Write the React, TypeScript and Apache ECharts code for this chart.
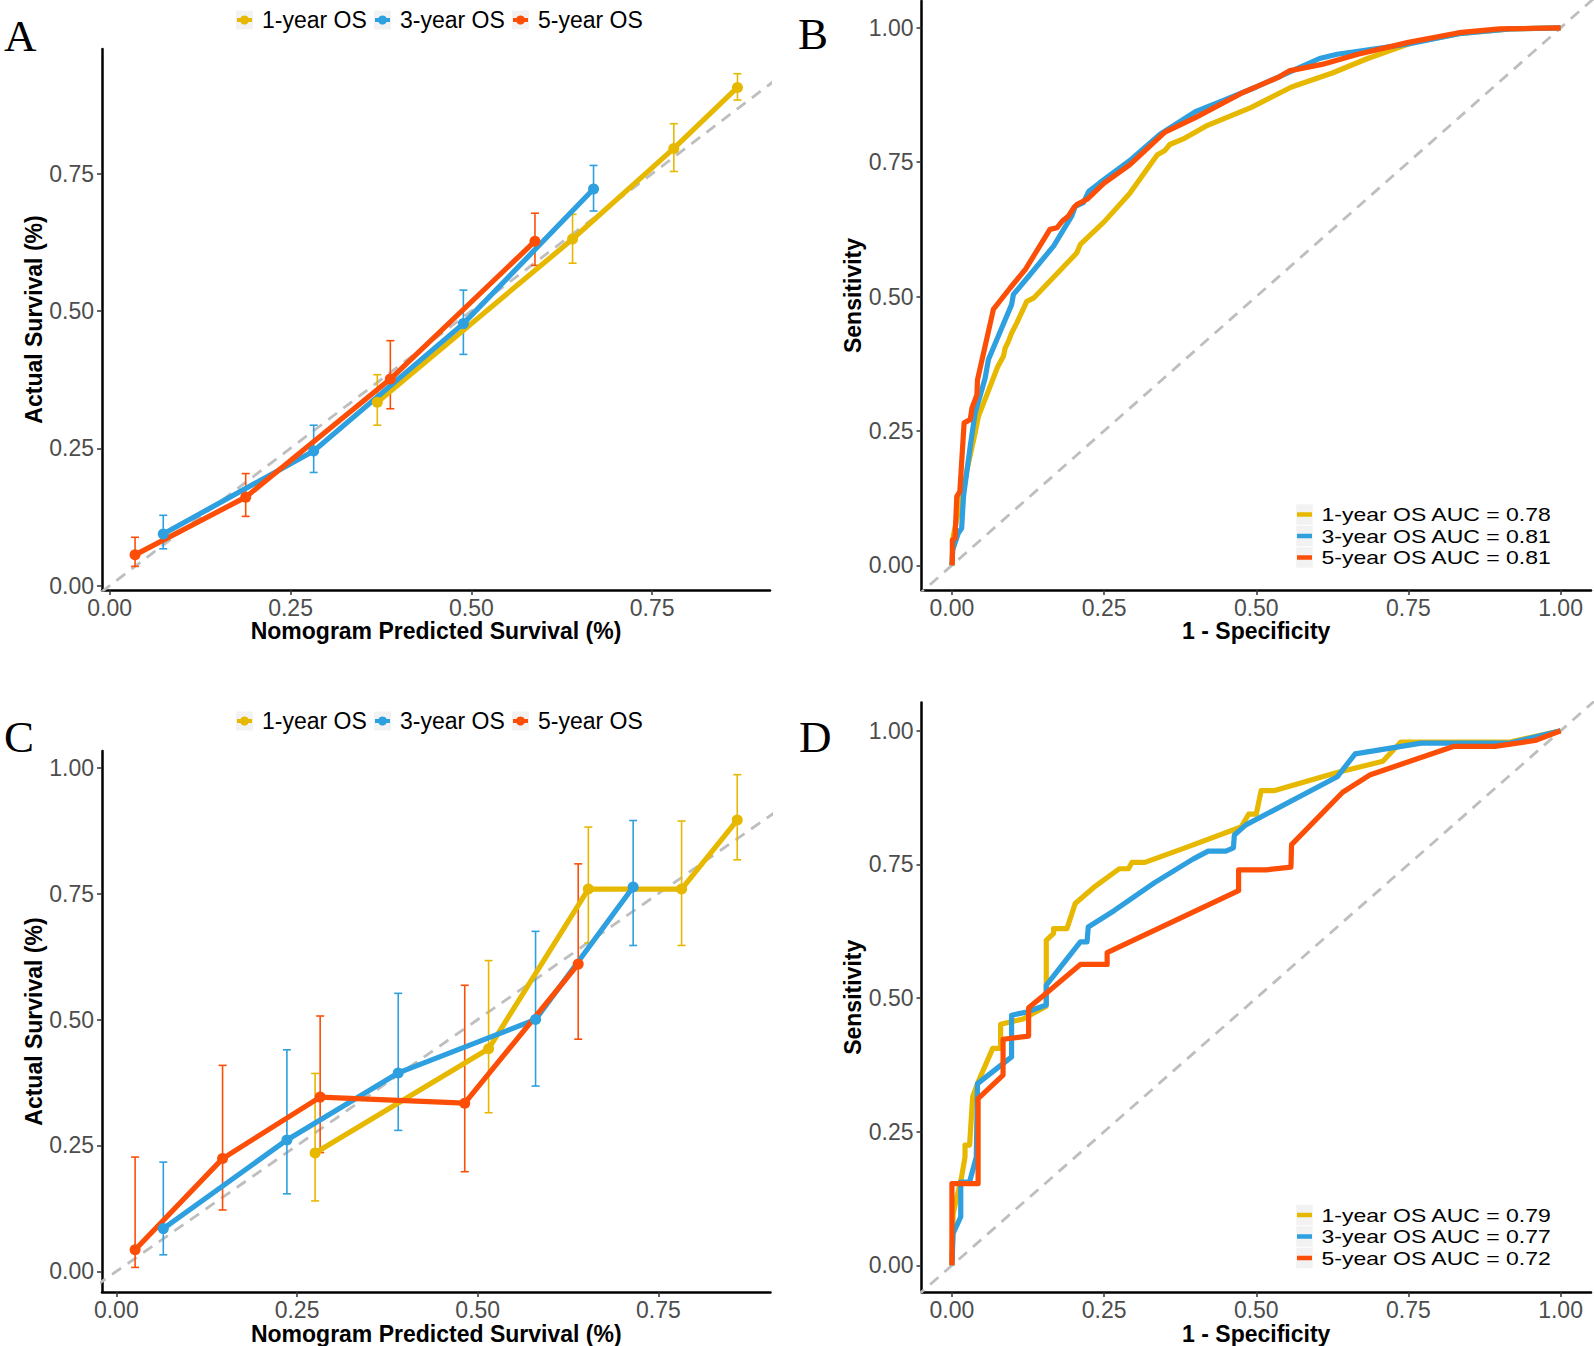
import React, { useEffect, useRef } from "react";
import * as echarts from "echarts";

const FONT = "Liberation Sans, Arial, sans-serif";
const COL1 = "#E7B800";
const COL3 = "#2E9FDF";
const COL5 = "#FC4E07";
const DIAG = "#BEBEBE";

const seriesLabels = ["1-year OS", "3-year OS", "5-year OS"];
const aucB = ["0.78", "0.81", "0.81"];
const aucD = ["0.79", "0.77", "0.72"];
const calTicks = [0, 0.25, 0.5, 0.75];
const calTicksC = [0, 0.25, 0.5, 0.75, 1.0];
const rocTicks = [0, 0.25, 0.5, 0.75, 1.0];

// Panel A calibration
const calA1x = [0.370, 0.640, 0.780, 0.868];
const calA1y = [0.334, 0.631, 0.796, 0.907];
const calA1lo = [0.292, 0.587, 0.754, 0.884];
const calA1hi = [0.384, 0.676, 0.841, 0.932];
const calA3x = [0.074, 0.282, 0.489, 0.669];
const calA3y = [0.094, 0.245, 0.477, 0.722];
const calA3lo = [0.067, 0.206, 0.421, 0.682];
const calA3hi = [0.128, 0.292, 0.538, 0.765];
const calA5x = [0.035, 0.188, 0.388, 0.588];
const calA5y = [0.056, 0.161, 0.376, 0.627];
const calA5lo = [0.035, 0.126, 0.322, 0.583];
const calA5hi = [0.088, 0.204, 0.446, 0.678];

// Panel C calibration
const calC1x = [0.275, 0.515, 0.653, 0.782, 0.859];
const calC1y = [0.235, 0.442, 0.759, 0.759, 0.896];
const calC1lo = [0.140, 0.315, 0.652, 0.647, 0.817];
const calC1hi = [0.393, 0.617, 0.882, 0.894, 0.986];
const calC3x = [0.065, 0.236, 0.390, 0.580, 0.715];
const calC3y = [0.085, 0.261, 0.394, 0.500, 0.763];
const calC3lo = [0.033, 0.154, 0.280, 0.368, 0.647];
const calC3hi = [0.217, 0.440, 0.552, 0.675, 0.895];
const calC5x = [0.026, 0.147, 0.282, 0.482, 0.639];
const calC5y = [0.043, 0.224, 0.346, 0.334, 0.610];
const calC5lo = [0.008, 0.122, 0.236, 0.198, 0.461];
const calC5hi = [0.227, 0.409, 0.507, 0.568, 0.809];

// Panel B ROC
const rocB1 = [[0,0],[0.002,0.053],[0.0125,0.110],[0.019,0.140],[0.025,0.179],[0.038,0.246],[0.0435,0.277],[0.049,0.293],[0.058,0.319],[0.075,0.369],[0.0846,0.389],[0.0874,0.404],[0.093,0.417],[0.098,0.432],[0.1066,0.451],[0.123,0.491],[0.134,0.497],[0.167,0.536],[0.205,0.581],[0.211,0.597],[0.25,0.639],[0.292,0.692],[0.3375,0.764],[0.35,0.772],[0.358,0.783],[0.383,0.795],[0.417,0.817],[0.492,0.852],[0.558,0.890],[0.625,0.916],[0.683,0.943],[0.758,0.973],[0.833,0.989],[0.917,0.998],[1,1]];
const rocB3 = [[0,0],[0.0013,0.0285],[0.0106,0.060],[0.016,0.069],[0.019,0.128],[0.030,0.221],[0.038,0.283],[0.046,0.314],[0.0545,0.348],[0.060,0.383],[0.083,0.445],[0.098,0.485],[0.101,0.504],[0.1285,0.541],[0.167,0.594],[0.197,0.650],[0.2026,0.668],[0.216,0.675],[0.225,0.696],[0.242,0.711],[0.292,0.753],[0.342,0.802],[0.4,0.844],[0.442,0.863],[0.5,0.890],[0.567,0.924],[0.604,0.943],[0.633,0.951],[0.75,0.970],[0.833,0.989],[0.917,0.998],[1,1]];
const rocB5 = [[0,0],[0.0007,0.007],[0.0007,0.047],[0.005,0.050],[0.008,0.128],[0.013,0.137],[0.020,0.265],[0.030,0.271],[0.033,0.293],[0.041,0.317],[0.042,0.345],[0.0655,0.463],[0.068,0.476],[0.0956,0.516],[0.121,0.551],[0.161,0.625],[0.1725,0.628],[0.181,0.640],[0.1916,0.650],[0.200,0.665],[0.205,0.671],[0.222,0.681],[0.250,0.711],[0.292,0.745],[0.350,0.806],[0.400,0.833],[0.475,0.878],[0.538,0.909],[0.554,0.920],[0.608,0.932],[0.667,0.951],[0.750,0.973],[0.833,0.991],[0.900,0.998],[1,1]];

// Panel D ROC
const rocD1 = [[0,0],[0.002,0.097],[0.016,0.166],[0.0215,0.203],[0.0215,0.225],[0.029,0.225],[0.034,0.315],[0.043,0.343],[0.067,0.406],[0.080,0.406],[0.080,0.451],[0.117,0.461],[0.155,0.485],[0.155,0.608],[0.167,0.621],[0.167,0.630],[0.189,0.630],[0.2025,0.677],[0.233,0.707],[0.275,0.742],[0.29,0.742],[0.296,0.754],[0.317,0.754],[0.383,0.781],[0.475,0.820],[0.4875,0.844],[0.5,0.844],[0.508,0.888],[0.529,0.888],[0.633,0.922],[0.708,0.943],[0.7375,0.979],[0.771,0.979],[0.917,0.979],[1,1]];
const rocD3 = [[0,0],[0.002,0.060],[0.0145,0.091],[0.0145,0.156],[0.029,0.156],[0.040,0.203],[0.042,0.340],[0.098,0.390],[0.098,0.468],[0.123,0.474],[0.155,0.487],[0.155,0.524],[0.179,0.559],[0.211,0.605],[0.222,0.605],[0.224,0.633],[0.267,0.664],[0.333,0.716],[0.396,0.760],[0.421,0.775],[0.45,0.775],[0.4625,0.781],[0.464,0.805],[0.483,0.824],[0.633,0.914],[0.6625,0.957],[0.771,0.977],[0.917,0.977],[1,1]];
const rocD5 = [[0,0],[0,0.153],[0.043,0.153],[0.043,0.312],[0.084,0.356],[0.084,0.423],[0.126,0.429],[0.126,0.482],[0.154,0.508],[0.211,0.563],[0.255,0.563],[0.255,0.585],[0.471,0.701],[0.471,0.740],[0.517,0.740],[0.557,0.745],[0.558,0.787],[0.642,0.885],[0.6875,0.918],[0.825,0.971],[0.892,0.971],[0.958,0.982],[1,1]];

const COLORS = [COL1, COL3, COL5];

function xAxisCfg(gi: number, min: number, max: number, ticks: number[], name: string, gap: number) {
  return {
    type: "value", gridIndex: gi, min, max, name, nameLocation: "middle", nameGap: gap,
    nameTextStyle: { fontFamily: FONT, fontSize: 23, fontWeight: "bold", color: "#000" },
    axisLine: { show: true, onZero: false, lineStyle: { color: "#000", width: 2.5 } },
    axisTick: { show: true, length: 5, customValues: ticks, lineStyle: { color: "#333", width: 1.5 } },
    axisLabel: { customValues: ticks, formatter: (v: number) => v.toFixed(2), fontFamily: FONT, fontSize: 23, color: "#4D4D4D", margin: 6 },
    splitLine: { show: false },
  };
}
function yAxisCfg(gi: number, min: number, max: number, ticks: number[], name: string, gap: number) {
  return {
    type: "value", gridIndex: gi, min, max, name, nameLocation: "middle", nameGap: gap,
    nameTextStyle: { fontFamily: FONT, fontSize: 23, fontWeight: "bold", color: "#000" },
    axisLine: { show: true, onZero: false, lineStyle: { color: "#000", width: 2.5 } },
    axisTick: { show: true, length: 5, customValues: ticks, lineStyle: { color: "#333", width: 1.5 } },
    axisLabel: { customValues: ticks, formatter: (v: number) => v.toFixed(2), fontFamily: FONT, fontSize: 23, color: "#4D4D4D", margin: 8 },
    splitLine: { show: false },
  };
}

function diag(gi: number) {
  return {
    type: "line", xAxisIndex: gi, yAxisIndex: gi, data: [[-0.2, -0.2], [1.2, 1.2]], symbol: "none", silent: true,
    clip: true, lineStyle: { color: DIAG, width: 2.8, type: [11, 8] }, z: 1,
  };
}

function errSeries(gi: number, x: number[], lo: number[], hi: number[], color: string) {
  return {
    type: "custom", xAxisIndex: gi, yAxisIndex: gi, silent: true, z: 2,
    data: x.map((v, i) => [v, lo[i], hi[i]]),
    encode: { x: 0, y: [1, 2] },
    renderItem: (_p: any, api: any) => {
      const xv = api.value(0);
      const a = api.coord([xv, api.value(1)]);
      const b = api.coord([xv, api.value(2)]);
      const w = 4;
      const st = { stroke: color, lineWidth: 1.6 };
      return {
        type: "group",
        children: [
          { type: "line", shape: { x1: a[0], y1: a[1], x2: b[0], y2: b[1] }, style: st },
          { type: "line", shape: { x1: a[0] - w, y1: a[1], x2: a[0] + w, y2: a[1] }, style: st },
          { type: "line", shape: { x1: b[0] - w, y1: b[1], x2: b[0] + w, y2: b[1] }, style: st },
        ],
      };
    },
  };
}

function calLine(gi: number, name: string, x: number[], y: number[], color: string) {
  return {
    type: "line", name, xAxisIndex: gi, yAxisIndex: gi, data: x.map((v, i) => [v, y[i]]),
    symbol: "circle", symbolSize: 11, showSymbol: true, z: 3,
    lineStyle: { color, width: 5.2 }, itemStyle: { color },
  };
}

function rocLine(gi: number, name: string, data: number[][], color: string) {
  return {
    type: "line", name, xAxisIndex: gi, yAxisIndex: gi, data, symbol: "none", showSymbol: false, z: 3,
    lineStyle: { color, width: 5.2, join: "round" },
  };
}

function calLegend(cy: number) {
  const els: any[] = [];
  seriesLabels.forEach((lab, i) => {
    const x = 236 + 138 * i;
    els.push({ type: "rect", shape: { x, y: cy - 9.5, width: 17, height: 19 }, style: { fill: "#F2F2F2" } });
    els.push({ type: "line", shape: { x1: x + 1, y1: cy, x2: x + 16, y2: cy }, style: { stroke: COLORS[i], lineWidth: 4 } });
    els.push({ type: "circle", shape: { cx: x + 8.5, cy, r: 4.5 }, style: { fill: COLORS[i] } });
    els.push({ type: "text", x: x + 26, y: cy, style: { text: lab, fontFamily: FONT, fontSize: 23, fill: "#000", verticalAlign: "middle", align: "left" } });
  });
  return els;
}

function rocLegend(rows: number[], aucs: string[]) {
  const els: any[] = [];
  seriesLabels.forEach((lab, i) => {
    const cy = rows[i];
    els.push({ type: "rect", shape: { x: 1296, y: cy - 10.5, width: 17, height: 21 }, style: { fill: "#F2F2F2", stroke: "#FFFFFF", lineWidth: 0.5 } });
    els.push({ type: "line", shape: { x1: 1297, y1: cy, x2: 1312, y2: cy }, style: { stroke: COLORS[i], lineWidth: 4.5 } });
    els.push({
      type: "text", x: 1321.5, y: cy, scaleX: 1, scaleY: 0.8,
      style: { text: `${lab} AUC = ${aucs[i]}`, fontFamily: FONT, fontSize: 23, lineHeight: 20, fill: "#000", verticalAlign: "middle", align: "left" },
    });
  });
  return els;
}

function letter(t: string, x: number, y: number) {
  return { type: "text", x, y, style: { text: t, fontFamily: "Liberation Serif, Times New Roman, serif", fontSize: 45, fill: "#000", verticalAlign: "middle", align: "left" } };
}

export default function App() {
  const ref = useRef<HTMLDivElement>(null);
  useEffect(() => {
    const chart = echarts.init(ref.current!, null, { renderer: "svg" });
    const option: any = {
      animation: false,
      backgroundColor: "#FFFFFF",
      grid: [
        { left: 102, top: 49, width: 668, height: 541 },
        { left: 921.5, top: 1, width: 669.5, height: 589 },
        { left: 102, top: 751, width: 668.5, height: 541.5 },
        { left: 921.5, top: 702.5, width: 669.5, height: 590 },
      ],
      xAxis: [
        xAxisCfg(0, -0.0107, 0.913, calTicks, "Nomogram Predicted Survival (%)", 27),
        xAxisCfg(1, -0.05, 1.05, rocTicks, "1 - Specificity", 27),
        xAxisCfg(2, -0.0198, 0.905, calTicks, "Nomogram Predicted Survival (%)", 26),
        xAxisCfg(3, -0.05, 1.05, rocTicks, "1 - Specificity", 26),
      ],
      yAxis: [
        yAxisCfg(0, -0.008, 0.977, calTicks, "Actual Survival (%)", 56),
        yAxisCfg(1, -0.046, 1.05, rocTicks, "Sensitivity", 55),
        yAxisCfg(2, -0.041, 1.033, calTicksC, "Actual Survival (%)", 56),
        yAxisCfg(3, -0.05, 1.053, rocTicks, "Sensitivity", 55),
      ],
      graphic: [
        letter("A", 4, 36),
        letter("B", 798, 34),
        letter("C", 4, 737),
        letter("D", 799, 737),
        ...calLegend(20),
        ...calLegend(721),
        ...rocLegend([514.5, 536, 557.5], aucB),
        ...rocLegend([1215, 1236.5, 1258], aucD),
      ],
      series: [
        diag(0),
        errSeries(0, calA1x, calA1lo, calA1hi, COL1),
        errSeries(0, calA3x, calA3lo, calA3hi, COL3),
        errSeries(0, calA5x, calA5lo, calA5hi, COL5),
        calLine(0, seriesLabels[0], calA1x, calA1y, COL1),
        calLine(0, seriesLabels[1], calA3x, calA3y, COL3),
        calLine(0, seriesLabels[2], calA5x, calA5y, COL5),
        diag(1),
        rocLine(1, seriesLabels[0], rocB1, COL1),
        rocLine(1, seriesLabels[1], rocB3, COL3),
        rocLine(1, seriesLabels[2], rocB5, COL5),
        diag(2),
        errSeries(2, calC1x, calC1lo, calC1hi, COL1),
        errSeries(2, calC3x, calC3lo, calC3hi, COL3),
        errSeries(2, calC5x, calC5lo, calC5hi, COL5),
        calLine(2, seriesLabels[0], calC1x, calC1y, COL1),
        calLine(2, seriesLabels[1], calC3x, calC3y, COL3),
        calLine(2, seriesLabels[2], calC5x, calC5y, COL5),
        diag(3),
        rocLine(3, seriesLabels[0], rocD1, COL1),
        rocLine(3, seriesLabels[1], rocD3, COL3),
        rocLine(3, seriesLabels[2], rocD5, COL5),
      ],
    };
    chart.setOption(option);
    return () => chart.dispose();
  }, []);
  return <div ref={ref} style={{ position: "absolute", left: 0, top: 0, width: 1594, height: 1346 }} />;
}
